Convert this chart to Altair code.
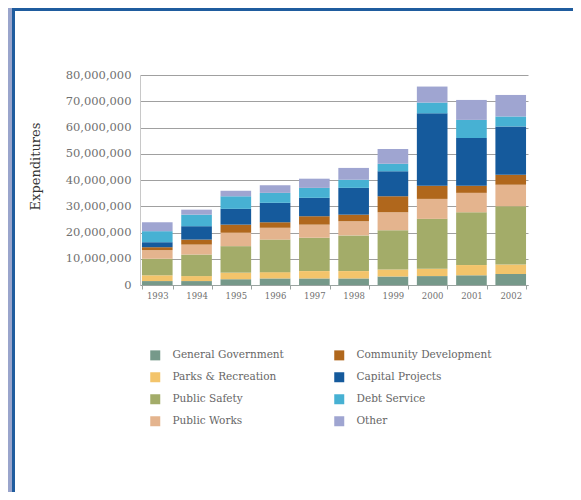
import altair as alt
import pandas as pd

years = ["1993", "1994", "1995", "1996", "1997", "1998", "1999", "2000", "2001", "2002"]

# values in millions of dollars
general_government = [1.5, 1.5, 2.2, 2.5, 2.5, 2.5, 3.2, 3.4, 3.7, 4.2]
parks_recreation = [2.2, 1.9, 2.5, 2.4, 2.8, 2.8, 2.7, 2.8, 3.9, 3.6]
public_safety = [6.3, 8.2, 10.1, 12.4, 12.7, 13.6, 15.0, 19.0, 20.1, 22.2]
public_works = [3.3, 3.8, 5.1, 4.5, 5.0, 5.4, 6.8, 7.6, 7.4, 8.2]
community_development = [1.1, 1.9, 3.1, 2.1, 3.2, 2.5, 6.1, 5.0, 2.7, 3.8]
capital_projects = [1.9, 5.1, 6.0, 7.4, 7.0, 10.2, 9.5, 27.6, 18.2, 18.4]
debt_service = [4.2, 4.4, 4.8, 3.8, 3.8, 3.1, 2.9, 4.1, 6.9, 3.8]
other = [3.4, 1.9, 2.1, 2.9, 3.5, 4.5, 5.6, 6.1, 7.6, 8.2]

categories = [
    "General Government", "Parks & Recreation", "Public Safety", "Public Works",
    "Community Development", "Capital Projects", "Debt Service", "Other",
]
series = [general_government, parks_recreation, public_safety, public_works,
          community_development, capital_projects, debt_service, other]
colors = ["#76998a", "#f3c46b", "#a3ac69", "#e4b48e",
          "#b0671c", "#155a9c", "#47b1d3", "#9fa5d1"]
y_ticks = [0, 10_000_000, 20_000_000, 30_000_000, 40_000_000,
           50_000_000, 60_000_000, 70_000_000, 80_000_000]

rows = []
for ci, (cat, vals) in enumerate(zip(categories, series)):
    for y, v in zip(years, vals):
        rows.append({"Year": y, "Category": cat, "Value": v * 1_000_000, "stack": ci})
df = pd.DataFrame(rows)

FONT = "DejaVu Serif"

bars = alt.Chart(df).mark_bar().encode(
    x=alt.X("Year:N", sort=years,
            scale=alt.Scale(paddingInner=0.22, paddingOuter=0.05),
            axis=alt.Axis(title=None, labelAngle=0, labelFont=FONT, labelFontSize=8.5,
                          labelColor="#707070", domainColor="#9aa3a0", tickColor="#9aa3a0",
                          tickSize=4, tickBand="extent", labelPadding=2, grid=False)),
    y=alt.Y("Value:Q", stack="zero",
            scale=alt.Scale(domain=[0, 80_000_000]),
            axis=alt.Axis(title="Expenditures", format=",d", values=y_ticks,
                          labelOverlap=False,
                          labelFont=FONT, labelFontSize=11.5, labelColor="#707070",
                          ticks=False, labelPadding=9, domainColor="#c8c8c8",
                          gridColor="#a0a0a0", gridWidth=1,
                          titleFont=FONT, titleFontSize=13, titleFontWeight="normal",
                          titleColor="#333333", titleX=-105, titleY=91,
                          titleAngle=-90, titleBaseline="middle", titleAlign="center")),
    color=alt.Color("Category:N",
                    scale=alt.Scale(domain=categories, range=colors),
                    legend=alt.Legend(title=None, orient="none", legendX=10, legendY=275,
                                      columns=2, columnPadding=50, rowPadding=11,
                                      symbolType="square", symbolSize=100,
                                      symbolStrokeWidth=0, labelOffset=12,
                                      labelFont=FONT, labelFontSize=10.5,
                                      labelColor="#666666", padding=0)),
    order=alt.Order("stack:Q", sort="ascending"),
)

deco = pd.DataFrame({"d": [0]})
left_band = alt.Chart(deco).mark_rect(color="#9aa5cc").encode(
    x=alt.value(-132), x2=alt.value(-128), y=alt.value(-67), y2=alt.value(417))
left_border = alt.Chart(deco).mark_rect(color="#1f5c9e").encode(
    x=alt.value(-128), x2=alt.value(-125), y=alt.value(-67), y2=alt.value(417))
top_border = alt.Chart(deco).mark_rect(color="#1f5c9e").encode(
    x=alt.value(-128), x2=alt.value(433), y=alt.value(-67), y2=alt.value(-64))

chart = alt.layer(left_band, left_border, top_border, bars).properties(
    width=388, height=210,
    autosize=alt.AutoSizeParams(type="none"),
    padding={"left": 132, "top": 67, "right": 45, "bottom": 207},
    background="white",
).configure_view(stroke=None)

chart.save("out.html", embed_options={"renderer": "svg", "actions": False})
